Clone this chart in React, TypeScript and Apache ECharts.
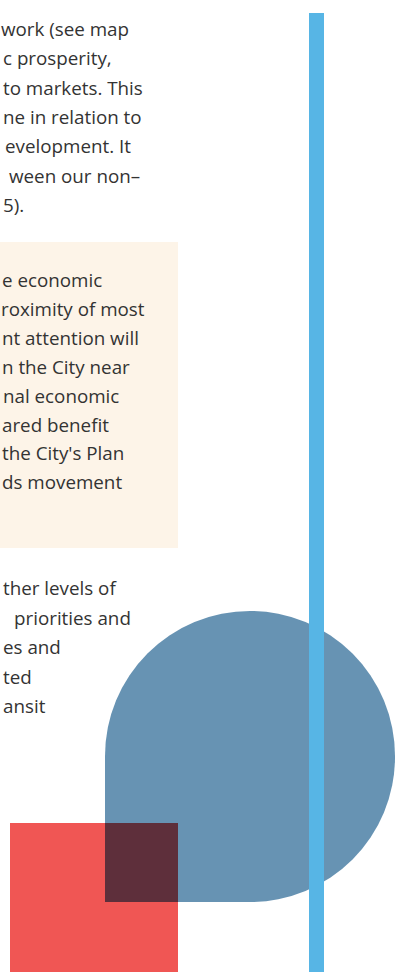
import React, { useEffect, useRef } from "react";
import * as echarts from "echarts";

const block1Lines = ["work (see map", "c prosperity,", "to markets. This", "ne in relation to", "evelopment. It", "ween our non–", "5)."];
const block1X = [1, 3, 3, 3, 5, 9, 3];
const block2Lines = ["e economic", "roximity of most", "nt attention will", "n the City near", "nal economic", "ared benefit", "the City's Plan", "ds movement"];
const block2X = [2, 1, 2, 2, 3, 2, 2, 2];
const block3Lines = ["ther levels of", "priorities and", "es and", "ted", "ansit"];
const block3X = [3, 14, 3, 3, 3];

const FONT = "'Open Sans', sans-serif";
const TEXT_COLOR = "#333333";

export default function App() {
  const ref = useRef<HTMLDivElement>(null);
  useEffect(() => {
    document.body.style.margin = "0";
    const chart = echarts.init(ref.current!, null, { renderer: "svg" });
    const lines = (arr: string[], xs: number[], y0: number, step: number) =>
      arr.map((t, i) => ({
        type: "text",
        x: xs[i],
        y: y0 + step * i,
        z: 10,
        style: { text: t, fill: TEXT_COLOR, font: `18.8px ${FONT}`, textVerticalAlign: "middle", textAlign: "left" },
      }));
    chart.setOption({
      animation: false,
      graphic: [
        { type: "rect", shape: { x: 0, y: 242, width: 178, height: 306 }, style: { fill: "#fdf4e8" }, z: 1 },
        ...lines(block1Lines, block1X, 29, 29.3),
        ...lines(block2Lines, block2X, 280, 28.9),
        ...lines(block3Lines, block3X, 588, 29.5),
        { type: "rect", shape: { x: 105, y: 611, width: 290, height: 291, r: [145, 145, 145, 0] }, style: { fill: "#6793b3" }, z: 2 },
        { type: "rect", shape: { x: 10, y: 823, width: 168, height: 149 }, style: { fill: "#f05654" }, z: 3 },
        { type: "rect", shape: { x: 105, y: 823, width: 73, height: 79 }, style: { fill: "#5e2f3b" }, z: 4 },
        { type: "rect", shape: { x: 309, y: 13, width: 15, height: 959 }, style: { fill: "#57b5e5" }, z: 5 },
      ],
    });
    return () => chart.dispose();
  }, []);
  return <div ref={ref} style={{ position: "absolute", left: 0, top: 0, width: 401, height: 972 }} />;
}
